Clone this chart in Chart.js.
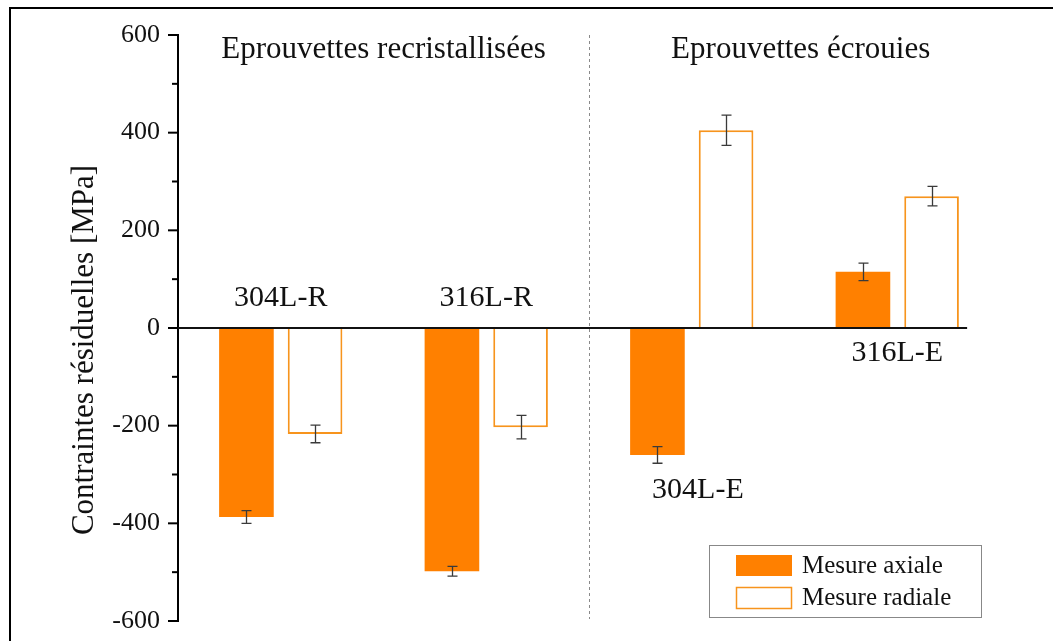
<!DOCTYPE html>
<html><head><meta charset="utf-8">
<script src="https://cdn.jsdelivr.net/npm/chart.js@4"></script>
<style>html,body{margin:0;padding:0;background:#fff}canvas{display:block}</style>
</head><body>
<canvas id="c" width="1053" height="641"></canvas>
<script>
// ---- data ----
const categories = ['304L-R', '316L-R', '304L-E', '316L-E'];
const axialValues = [-387, -498, -260, 115];
const axialErrors = [13, 10, 17, 18];
const radialValues = [-217, -203, 405, 270];
const radialErrors = [18, 24, 31, 20];
const seriesNames = ['Mesure axiale', 'Mesure radiale'];
const groupTitles = ['Eprouvettes recristallisées', 'Eprouvettes écrouies'];
const yTickValues = [-600, -400, -200, 0, 200, 400, 600];
const yAxisTitle = 'Contraintes résiduelles [MPa]';

// ---- styles ----
const FONT = '"Liberation Serif", "Times New Roman", serif';
const ORANGE = '#FF8000';
const ORANGE_LINE = '#F7941D';
const errorSets = [axialErrors, radialErrors];

// text annotations anchored in data coordinates (category index, value)
const groupTitleAnchors = [[0.5, 570], [2.53, 570]];
const categoryLabelAnchors = [[0, 62], [1, 62], [2.03, -332], [3, -52]];
const yTitleAnchorValue = -45;

const deco = {
  id: 'deco',
  beforeDraw(chart) {
    const ctx = chart.ctx;
    ctx.save();
    ctx.strokeStyle = '#000';
    ctx.lineWidth = 2;
    ctx.strokeRect(10, 8, chart.width + 20, chart.height + 20);
    ctx.restore();
  },
  afterDatasetsDraw(chart) {
    const {ctx, chartArea: a, scales: {x, y}} = chart;
    ctx.save();
    // dashed separator between the two groups
    const sx = Math.round(x.getPixelForValue(1.5)) + 0.5;
    ctx.strokeStyle = '#8a8a8a';
    ctx.lineWidth = 1;
    ctx.setLineDash([3, 3]);
    ctx.beginPath(); ctx.moveTo(sx, a.top); ctx.lineTo(sx, a.bottom - 2); ctx.stroke();
    ctx.setLineDash([]);
    // zero line
    const y0 = y.getPixelForValue(0);
    ctx.strokeStyle = '#111';
    ctx.lineWidth = 2;
    ctx.beginPath(); ctx.moveTo(a.left, y0); ctx.lineTo(x.getPixelForValue(3.34), y0); ctx.stroke();
    // error bars
    ctx.strokeStyle = '#3a3a3a';
    ctx.lineWidth = 1.3;
    chart.data.datasets.forEach((ds, i) => {
      const meta = chart.getDatasetMeta(i);
      meta.data.forEach((el, j) => {
        const v = ds.data[j], e = errorSets[i][j];
        const yt = y.getPixelForValue(v + e), yb = y.getPixelForValue(v - e);
        const cx = Math.round(el.x) + 0.5;
        ctx.beginPath();
        ctx.moveTo(cx, yt); ctx.lineTo(cx, yb);
        ctx.moveTo(cx - 5, yt); ctx.lineTo(cx + 5, yt);
        ctx.moveTo(cx - 5, yb); ctx.lineTo(cx + 5, yb);
        ctx.stroke();
      });
    });
    // minor + major ticks on y axis
    ctx.strokeStyle = '#000';
    ctx.lineWidth = 2;
    for (let v = -600; v <= 600; v += 100) {
      const py = y.getPixelForValue(v);
      const len = (v % 200 === 0) ? 10 : 6;
      ctx.beginPath(); ctx.moveTo(a.left - len, py); ctx.lineTo(a.left, py); ctx.stroke();
    }
    // y axis title
    ctx.fillStyle = '#111';
    ctx.save();
    ctx.translate(a.left - 93, y.getPixelForValue(yTitleAnchorValue));
    ctx.rotate(-Math.PI / 2);
    ctx.font = '31px ' + FONT;
    ctx.textAlign = 'center';
    ctx.textBaseline = 'middle';
    ctx.fillText(yAxisTitle, 0, 0);
    ctx.restore();
    // group titles
    ctx.font = '31px ' + FONT;
    ctx.textAlign = 'center';
    ctx.textBaseline = 'middle';
    groupTitles.forEach((t, i) => {
      const [cx, cy] = groupTitleAnchors[i];
      ctx.fillText(t, x.getPixelForValue(cx), y.getPixelForValue(cy));
    });
    // category labels
    ctx.font = '30px ' + FONT;
    categories.forEach((t, i) => {
      const [cx, cy] = categoryLabelAnchors[i];
      ctx.fillText(t, x.getPixelForValue(cx), y.getPixelForValue(cy));
    });
    // legend
    const bx = a.right - 291, by = a.bottom - 76, bw = 272, bh = 72;
    ctx.strokeStyle = '#888';
    ctx.lineWidth = 1;
    ctx.strokeRect(bx + 0.5, by + 0.5, bw, bh);
    ctx.fillStyle = ORANGE;
    ctx.fillRect(bx + 27, by + 10, 56, 21);
    ctx.strokeStyle = ORANGE_LINE;
    ctx.lineWidth = 1.5;
    ctx.strokeRect(bx + 27.5, by + 42.5, 55, 21);
    ctx.fillStyle = '#111';
    ctx.font = '25px ' + FONT;
    ctx.textAlign = 'left';
    ctx.fillText(seriesNames[0], bx + 93, by + 21);
    ctx.fillText(seriesNames[1], bx + 93, by + 53);
    ctx.restore();
  }
};

new Chart(document.getElementById('c'), {
  type: 'bar',
  data: {
    labels: categories,
    datasets: [
      {label: seriesNames[0], data: axialValues, backgroundColor: ORANGE, borderWidth: 0},
      {label: seriesNames[1], data: radialValues, backgroundColor: '#ffffff', borderColor: ORANGE_LINE, borderWidth: 2}
    ]
  },
  options: {
    responsive: false,
    animation: false,
    events: [],
    layout: {padding: {left: 10, top: 35, right: 53, bottom: 20}},
    datasets: {bar: {categoryPercentage: 0.668, barPercentage: 0.796}},
    plugins: {legend: {display: false}, tooltip: {enabled: false}},
    scales: {
      x: {display: false, grid: {display: false}},
      y: {
        min: -600, max: 600,
        afterFit(s) { s.width = 168; s.paddingTop = 0; s.paddingBottom = 0; },
        afterBuildTicks(s) { s.ticks = yTickValues.map(v => ({value: v})); },
        border: {display: true, color: '#000', width: 2},
        grid: {drawOnChartArea: false, drawTicks: true, tickLength: 10, tickColor: 'rgba(0,0,0,0)'},
        ticks: {color: '#111', padding: 8, font: {family: FONT, size: 26}},
        title: {display: false}
      }
    }
  },
  plugins: [deco]
});
</script>
</body></html>
